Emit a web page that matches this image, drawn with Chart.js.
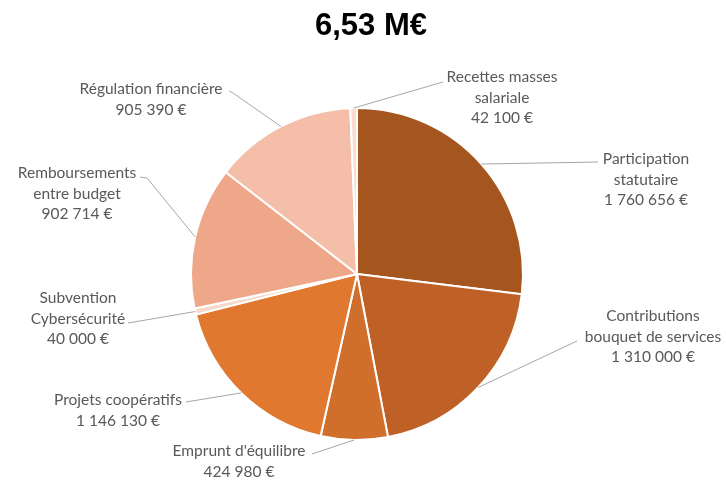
<!DOCTYPE html>
<html lang="fr">
<head>
<meta charset="utf-8">
<title>6,53 M€</title>
<script src="https://cdn.jsdelivr.net/npm/chart.js@4"></script>
<style>
    html, body { margin: 0; padding: 0; background: #ffffff; }
    #wrap { width: 726px; height: 483px; position: relative; }
</style>
</head>
<body>
<div id="wrap"><canvas id="pieChart"></canvas></div>
<script>
// Données du graphique (sens horaire depuis midi)
const categories = [
    'Participation statutaire',
    'Contributions bouquet de services',
    "Emprunt d'équilibre",
    'Projets coopératifs',
    'Subvention Cybersécurité',
    'Remboursements entre budget',
    'Régulation financière',
    'Recettes masses salariale'
];
const values = [1760656, 1310000, 424980, 1146130, 40000, 902714, 905390, 42100];
const labelLines = [
    ['Participation', 'statutaire'],
    ['Contributions', 'bouquet de services'],
    ["Emprunt d'équilibre"],
    ['Projets coopératifs'],
    ['Subvention', 'Cybersécurité'],
    ['Remboursements', 'entre budget'],
    ['Régulation financière'],
    ['Recettes masses', 'salariale']
];
const totalLabel = '6,53 M€';

const colors = ['#A5561F', '#BF6126', '#D06E2C', '#E07830', '#F7D9CB', '#EFA78A', '#F4BEA8', '#F9DDD0'];

// Placement des étiquettes (centre du texte, y de la 1re ligne, bout du trait, coude éventuel)
const labelLayout = [
    { x: 646, y: 159, end: [598, 162] },
    { x: 653, y: 316, end: [577, 341] },
    { x: 239, y: 451, end: [312, 454] },
    { x: 118, y: 400, end: [186, 402] },
    { x: 78,  y: 298, end: [128, 323] },
    { x: 77,  y: 173, end: [140, 177], elbow: [147, 178] },
    { x: 151, y: 89,  end: [229, 91],  elbow: [233, 93] },
    { x: 502, y: 77,  end: [443, 82] }
];

function formatEuro(v) {
    return String(v).replace(/\B(?=(\d{3})+(?!\d))/g, ' ') + ' €';
}

// Plugin : titre, traits de rappel et étiquettes
const labelsPlugin = {
    id: 'pieLabels',
    afterDraw(chart) {
        const ctx = chart.ctx;
        const arcs = chart.getDatasetMeta(0).data;
        ctx.save();

        ctx.fillStyle = '#000000';
        ctx.font = 'bold 31px "Liberation Sans", Arial, sans-serif';
        ctx.textAlign = 'center';
        ctx.textBaseline = 'middle';
        ctx.fillText(totalLabel, 371, 26);

        arcs.forEach((arc, i) => {
            const lay = labelLayout[i];
            const mid = (arc.startAngle + arc.endAngle) / 2;
            const sx = arc.x + Math.cos(mid) * arc.outerRadius;
            const sy = arc.y + Math.sin(mid) * arc.outerRadius;

            ctx.strokeStyle = '#A6A6A6';
            ctx.lineWidth = 1;
            ctx.beginPath();
            ctx.moveTo(sx, sy);
            if (lay.elbow) ctx.lineTo(lay.elbow[0], lay.elbow[1]);
            ctx.lineTo(lay.end[0], lay.end[1]);
            ctx.stroke();

            const lines = labelLines[i].concat([formatEuro(values[i])]);
            ctx.fillStyle = '#595959';
            ctx.font = '15.5px Lato, "Open Sans", sans-serif';
            lines.forEach((t, k) => {
                ctx.fillText(t, lay.x, lay.y + k * 20.5);
            });
        });
        ctx.restore();
    }
};

document.addEventListener('DOMContentLoaded', () => {
    const ctx = document.getElementById('pieChart').getContext('2d');
    new Chart(ctx, {
        type: 'pie',
        data: {
            labels: categories,
            datasets: [{
                data: values,
                backgroundColor: colors,
                borderColor: '#ffffff',
                borderWidth: 2
            }]
        },
        options: {
            responsive: true,
            maintainAspectRatio: false,
            animation: false,
            layout: {
                padding: { top: 107, bottom: 42, left: 190, right: 202 }
            },
            plugins: {
                legend: { display: false },
                tooltip: { enabled: false }
            }
        },
        plugins: [labelsPlugin]
    });
});
</script>
</body>
</html>
